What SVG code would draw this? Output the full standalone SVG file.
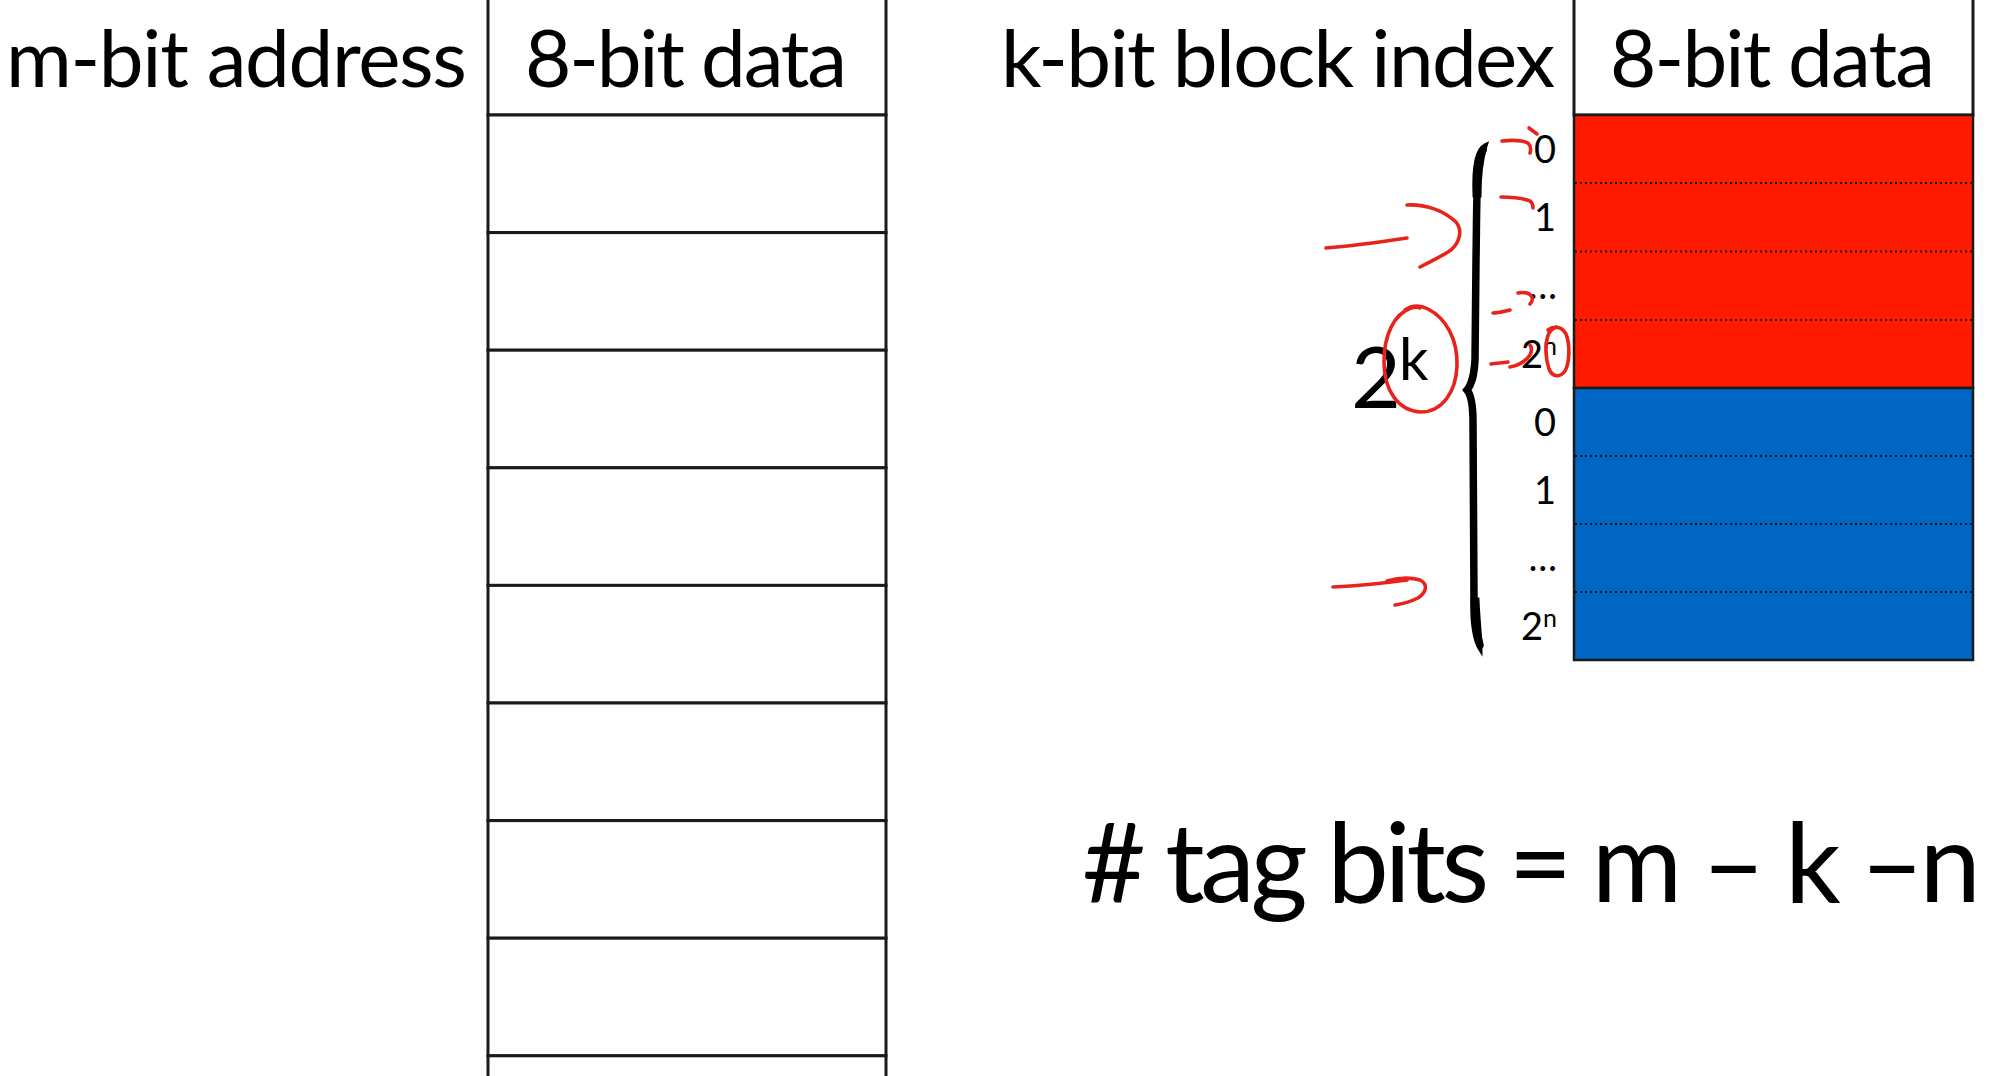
<svg xmlns="http://www.w3.org/2000/svg" width="2007" height="1076" viewBox="0 0 2007 1076">
<style>
.hdr{font-family:Lato,"Open Sans","Liberation Sans",sans-serif;font-size:80px;fill:#000}
.lbl{font-family:Lato,"Open Sans","Liberation Sans",sans-serif;font-size:38px;fill:#000;text-anchor:end}
.cell{fill:#fff;stroke:#1a1a1a;stroke-width:3}
.dot{stroke:#111;stroke-width:2;stroke-dasharray:2 3}
.ink{fill:none;stroke:#e8231b;stroke-width:3.6;stroke-linecap:round;stroke-linejoin:round}
</style>
<rect width="2007" height="1076" fill="#fff"/>

<g id="left-table">
  <rect class="cell" x="488" y="-5" width="398" height="120"/>
  <rect class="cell" x="488" y="115" width="398" height="117.6"/>
  <rect class="cell" x="488" y="232.6" width="398" height="117.6"/>
  <rect class="cell" x="488" y="350.2" width="398" height="117.6"/>
  <rect class="cell" x="488" y="467.8" width="398" height="117.6"/>
  <rect class="cell" x="488" y="585.4" width="398" height="117.6"/>
  <rect class="cell" x="488" y="703" width="398" height="117.6"/>
  <rect class="cell" x="488" y="820.6" width="398" height="117.6"/>
  <rect class="cell" x="488" y="938.2" width="398" height="117.6"/>
  <rect class="cell" x="488" y="1055.8" width="398" height="40"/>
  <text class="hdr" x="6" y="87" textLength="461">m-bit address</text>
  <text class="hdr" x="525" y="87" textLength="322">8-bit data</text>
</g>

<g id="right-table">
  <rect class="cell" x="1574" y="-5" width="399" height="120"/>
  <rect x="1574" y="115" width="399" height="273" fill="#ff1a00" stroke="#1a1a1a" stroke-width="2.5"/>
  <rect x="1574" y="388" width="399" height="272" fill="#0066c4" stroke="#1a1a1a" stroke-width="2.5"/>
  <line class="dot" x1="1575" y1="183" x2="1972" y2="183"/>
  <line class="dot" x1="1575" y1="251.5" x2="1972" y2="251.5"/>
  <line class="dot" x1="1575" y1="320" x2="1972" y2="320"/>
  <line class="dot" x1="1575" y1="456" x2="1972" y2="456"/>
  <line class="dot" x1="1575" y1="524" x2="1972" y2="524"/>
  <line class="dot" x1="1575" y1="592" x2="1972" y2="592"/>
  <text class="hdr" x="1001" y="87" textLength="554">k-bit block index</text>
  <text class="hdr" x="1610" y="87" textLength="325">8-bit data</text>
</g>

<g id="row-labels">
  <text class="lbl" x="1556" y="163">0</text>
  <text class="lbl" x="1556" y="231">1</text>
  <text class="lbl" x="1557" y="299">…</text>
  <text class="lbl" x="1557" y="368">2<tspan font-size="25" dy="-13">n</tspan></text>
  <text class="lbl" x="1556" y="436">0</text>
  <text class="lbl" x="1556" y="504">1</text>
  <text class="lbl" x="1557" y="571">…</text>
  <text class="lbl" x="1557" y="640">2<tspan font-size="25" dy="-13">n</tspan></text>
</g>

<g id="brace-label">
  <text x="1351" y="408" font-family="Lato,'Open Sans','Liberation Sans',sans-serif" font-size="86">2</text>
  <text x="1399" y="380" font-family="Lato,'Open Sans','Liberation Sans',sans-serif" font-size="58">k</text>
</g>

<g id="brace">
  <path d="M1483,150 C1476,156 1477,200 1476,260 L1475,360 C1474,376 1472,384 1467,390 C1472,396 1473,408 1473,422 L1474,600 C1475,626 1478,638 1480,645" fill="none" stroke="#000" stroke-width="7.5" stroke-linecap="round"/>
  <path d="M1485,146 C1477,150 1474,170 1475,195 L1479,195 C1479,172 1482,156 1485,146 Z" fill="#000" stroke="#000" stroke-width="5"/>
  <path d="M1480,648 C1475,640 1472,622 1473,600 L1477,600 C1478,622 1480,638 1480,648 Z" fill="#000" stroke="#000" stroke-width="5"/>
</g>

<g id="annotations">
  <path class="ink" d="M1502,141 C1512,140 1522,140 1528,143 C1531,146 1531,150 1530,153"/>
  <path class="ink" d="M1529,128 L1537,134"/>
  <path class="ink" d="M1501,197 C1510,197 1520,197 1530,201 C1533,203 1533,206 1533,208"/>
  <path class="ink" d="M1326,248 C1350,246 1380,242 1407,238"/>
  <path class="ink" d="M1407,205 C1425,204 1443,210 1456,222 C1464,232 1458,246 1448,252 C1438,258 1428,263 1420,267"/>
  <path class="ink" d="M1493,313 C1499,313 1505,311 1510,310"/>
  <path class="ink" d="M1518,293 C1524,292 1530,293 1532,297 C1533,300 1532,302 1530,304"/>
  <path class="ink" d="M1491,364 C1497,363 1503,363 1508,362"/>
  <path class="ink" d="M1510,367 C1518,366 1526,361 1530,355 C1532,351 1532,348 1530,345"/>
  <path class="ink" d="M1548,330 C1553,326 1562,326 1566,334 C1570,344 1570,362 1565,371 C1560,378 1552,377 1549,369 C1545,357 1545,342 1549,333 C1551,330 1554,328 1556,327"/>
  <path class="ink" d="M1405,310 C1412,305 1420,305 1428,309 C1446,318 1458,340 1457,366 C1456,392 1442,412 1421,412 C1398,411 1384,390 1384,362 C1384,335 1394,314 1411,308 C1414,307 1418,307 1420,308"/>
  <path class="ink" d="M1333,587 C1355,586 1385,583 1407,580"/>
  <path class="ink" d="M1387,581 C1398,578 1410,577 1420,580 C1428,584 1427,592 1418,598 C1410,602 1402,604 1395,605"/>
</g>

<g id="formula">
  <text x="1082" y="902" font-family="Lato,'Open Sans','Liberation Sans',sans-serif" font-size="110" textLength="899">#&#160;tag bits = m – k –n</text>
</g>
</svg>
